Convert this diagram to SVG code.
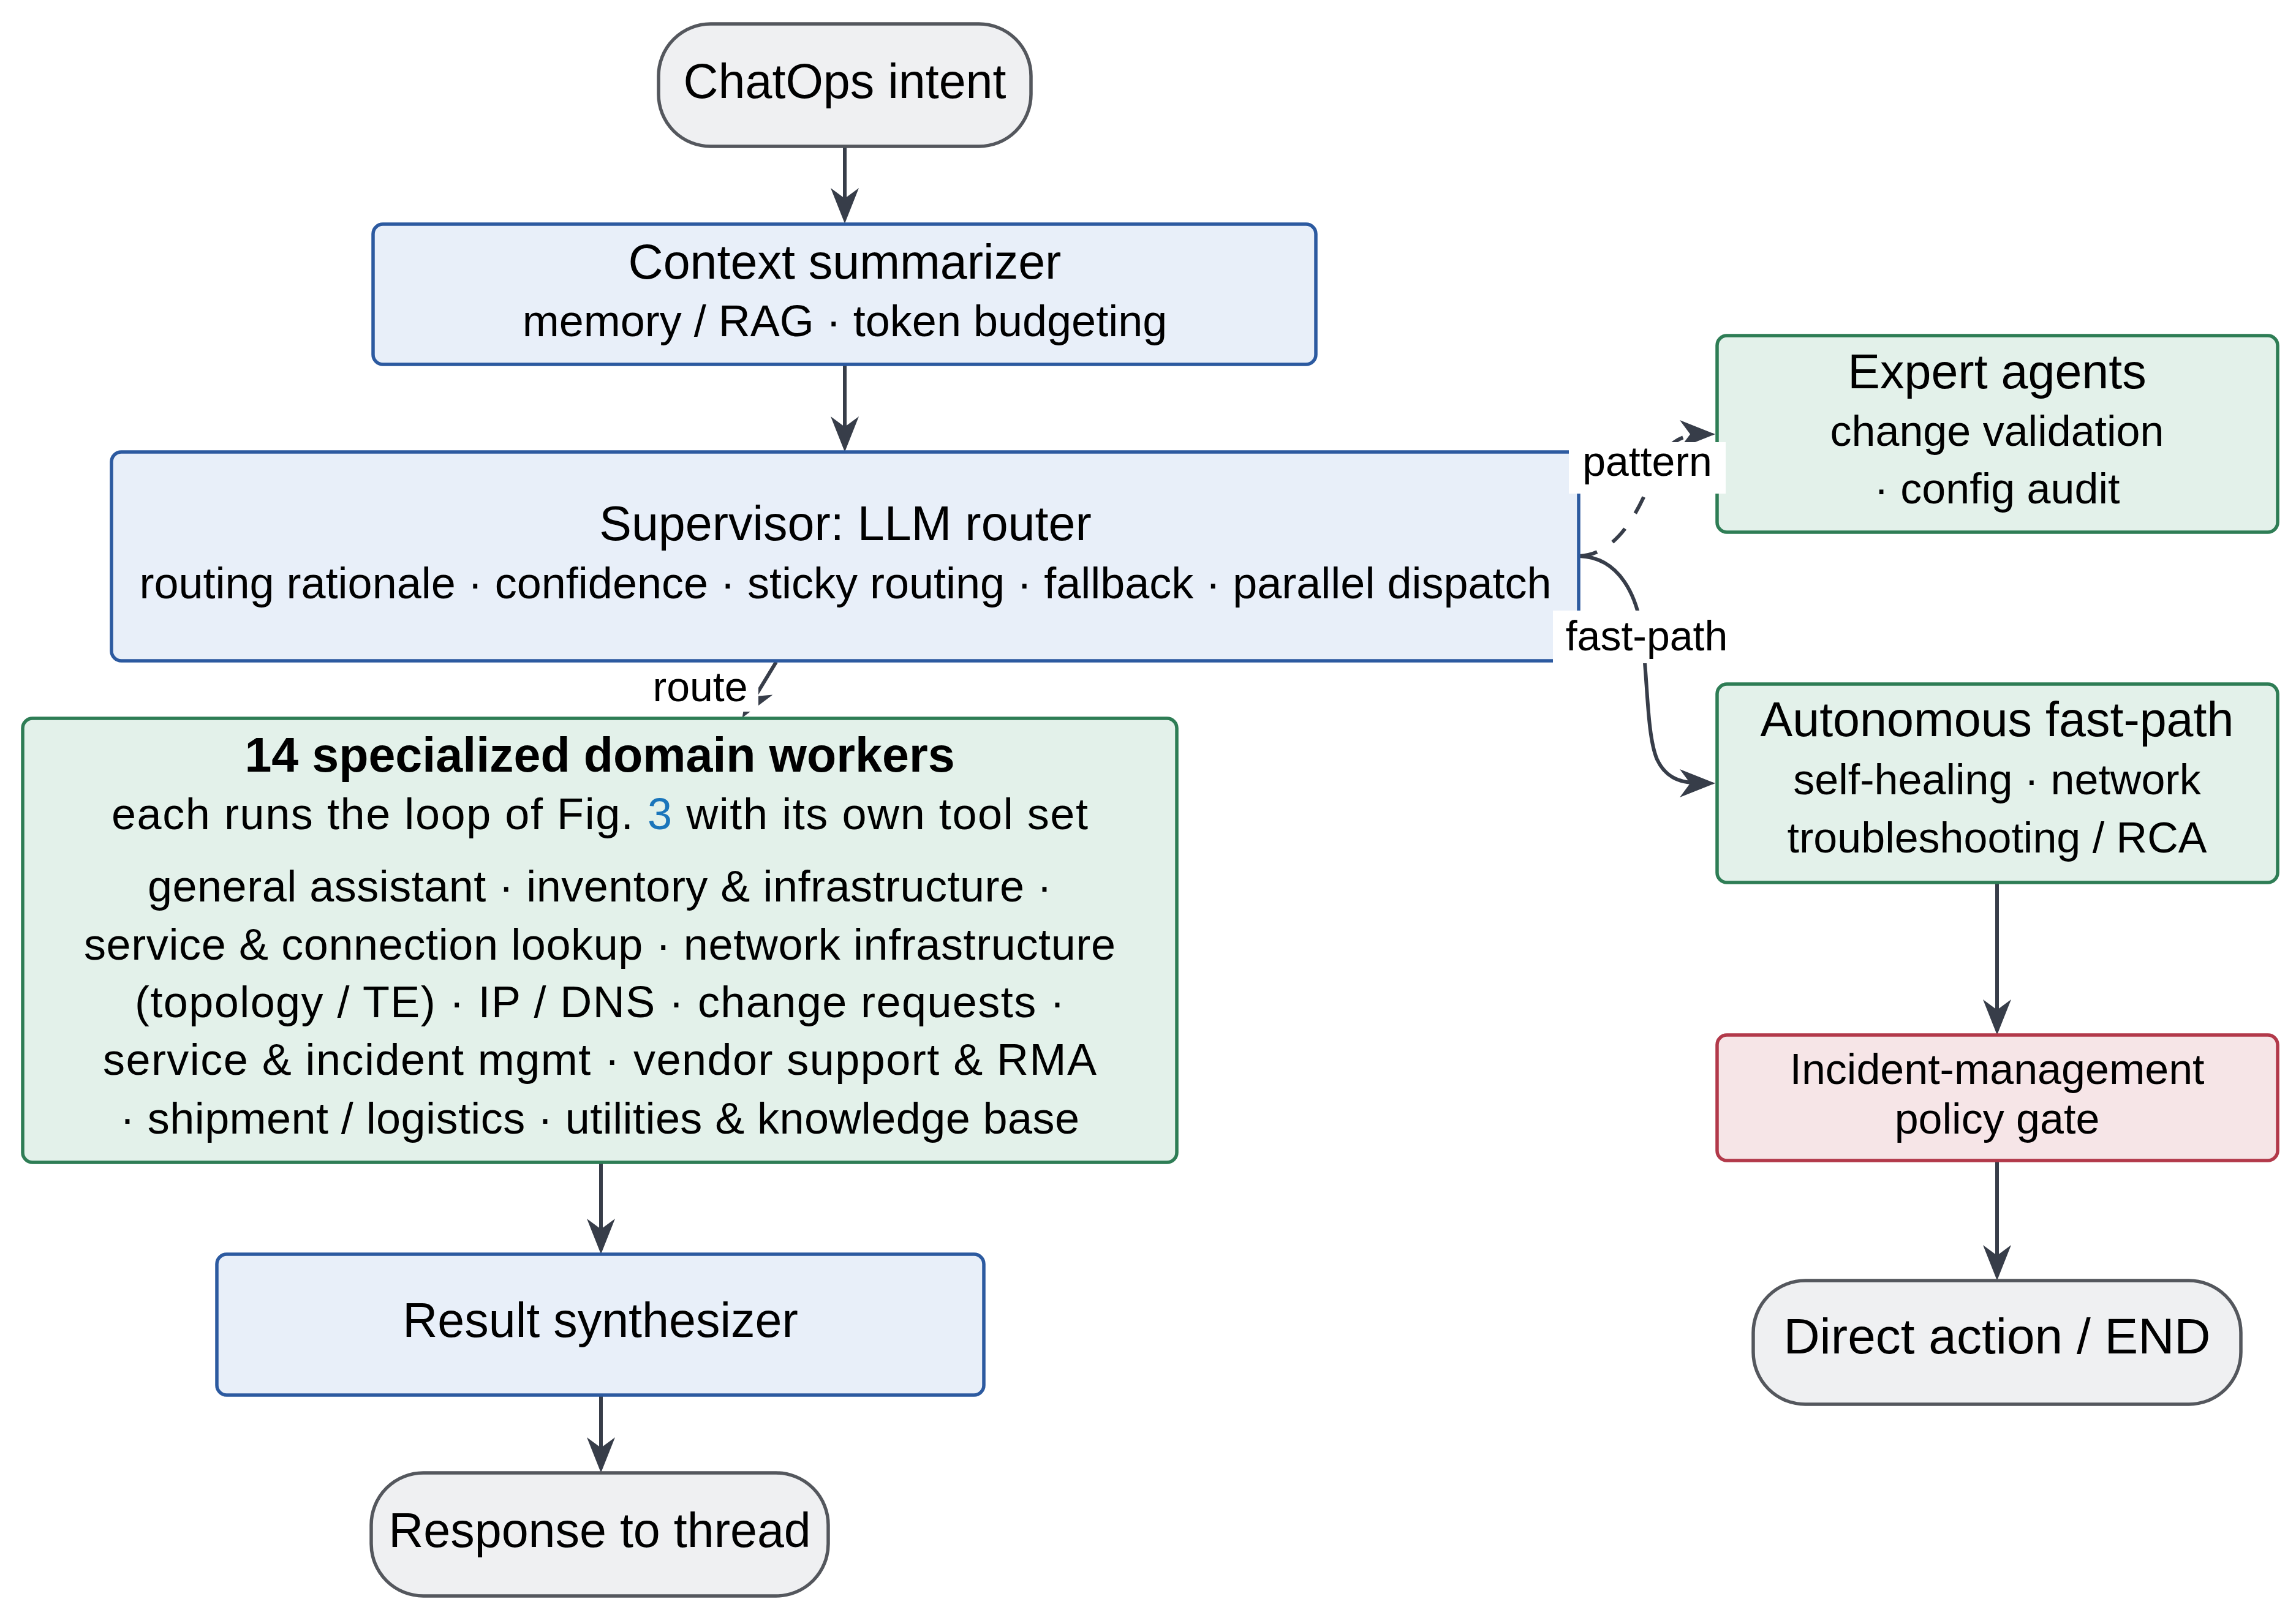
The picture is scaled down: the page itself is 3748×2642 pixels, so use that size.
<svg xmlns="http://www.w3.org/2000/svg" width="3748" height="2642" viewBox="0 0 3748 2642">
<style>
text{font-family:"Liberation Sans",Arial,sans-serif;fill:#000;text-anchor:middle}
.t{font-size:79px}
.s{font-size:72px}
.r{font-size:70px}
.b{font-size:79px;font-weight:bold}
.e{font-size:82px}
.lbl{font-size:68px}
.gray{fill:#eff0f2;stroke:#54575d;stroke-width:5.5}
.blue{fill:#e8eff9;stroke:#2c5aa0;stroke-width:5.5}
.green{fill:#e3f1ea;stroke:#2e7d55;stroke-width:5.5}
.red{fill:#f6e5e7;stroke:#b2394a;stroke-width:5.5}
.c{fill:none;stroke:#373d49;stroke-width:6;marker-end:url(#ah)}
.d{stroke-dasharray:30 30}
.lb{fill:#fff}
.ref{fill:#1a75bb}
</style>
<defs>
<marker id="ah" markerUnits="userSpaceOnUse" markerWidth="60" markerHeight="48" refX="38" refY="24" orient="auto">
<path d="M58,24 L0,1 L17,24 L0,47 Z" fill="#373d49"/>
</marker>
</defs>
<rect width="3748" height="2642" fill="#fff"/>

<g id="connectors">
<path class="c" d="M1379,239 L1379,345"/>
<path class="c" d="M1379,595 L1379,718"/>
<path class="c" d="M1267,1081 L1222,1155"/>
<path class="c d" d="M2578,908 C2650,905 2685,810 2705,760 C2722,722 2745,709 2780,709"/>
<path class="c" d="M2578,908 C2645,910 2672,975 2680,1030 C2690,1110 2688,1200 2705,1240 C2720,1272 2745,1279 2780,1279"/>
<path class="c" d="M981,1898 L981,2028"/>
<path class="c" d="M981,2278 L981,2385"/>
<path class="c" d="M3260,1441 L3260,1670"/>
<path class="c" d="M3260,1895 L3260,2071"/>
</g>

<g id="chatops">
<rect class="gray" x="1075" y="39" width="608" height="200" rx="85" ry="85"/>
<text class="t" x="1379" y="160">ChatOps intent</text>
</g>

<g id="context">
<rect class="blue" x="609" y="366" width="1539" height="229" rx="16"/>
<text class="t" x="1379" y="455">Context summarizer</text>
<text class="s" x="1379" y="549">memory / RAG · token budgeting</text>
</g>

<g id="supervisor">
<rect class="blue" x="182" y="738" width="2395" height="341" rx="16"/>
<text class="t" x="1380" y="882">Supervisor: LLM router</text>
<text class="s" x="1380" y="977">routing rationale · confidence · sticky routing · fallback · parallel dispatch</text>
</g>

<g id="workers">
<rect class="green" x="37" y="1173" width="1884" height="725" rx="16"/>
<text class="b" x="979" y="1260">14 specialized domain workers</text>
<text class="s" x="979" y="1354" textLength="1594" lengthAdjust="spacing">each runs the loop of Fig. <tspan class="ref">3</tspan> with its own tool set</text>
<text class="s" x="979" y="1472" textLength="1476" lengthAdjust="spacing">general assistant · inventory &amp; infrastructure ·</text>
<text class="s" x="979" y="1567" textLength="1684" lengthAdjust="spacing">service &amp; connection lookup · network infrastructure</text>
<text class="s" x="979" y="1661" textLength="1518" lengthAdjust="spacing">(topology / TE) · IP / DNS · change requests ·</text>
<text class="s" x="979" y="1755" textLength="1622" lengthAdjust="spacing">service &amp; incident mgmt · vendor support &amp; RMA</text>
<text class="s" x="979" y="1851" textLength="1566" lengthAdjust="spacing">· shipment / logistics · utilities &amp; knowledge base</text>
</g>

<g id="synthesizer">
<rect class="blue" x="354" y="2048" width="1252" height="230" rx="16"/>
<text class="t" x="980" y="2183">Result synthesizer</text>
</g>

<g id="response">
<rect class="gray" x="606" y="2405" width="746" height="201" rx="85" ry="85"/>
<text class="t" x="979" y="2526">Response to thread</text>
</g>

<g id="expert">
<rect class="green" x="2803" y="548" width="915" height="321" rx="16"/>
<text class="t" x="3260" y="634">Expert agents</text>
<text class="r" x="3260" y="728">change validation</text>
<text class="r" x="3260" y="822">· config audit</text>
</g>

<g id="autonomous">
<rect class="green" x="2803" y="1117" width="915" height="324" rx="16"/>
<text class="t" x="3260" y="1202">Autonomous fast-path</text>
<text class="r" x="3260" y="1297">self-healing · network</text>
<text class="r" x="3260" y="1392">troubleshooting / RCA</text>
</g>

<g id="incident">
<rect class="red" x="2803" y="1690" width="915" height="205" rx="16"/>
<text class="r" x="3260" y="1770">Incident-management</text>
<text class="r" x="3260" y="1851">policy gate</text>
</g>

<g id="direct">
<rect class="gray" x="2862" y="2091" width="796" height="202" rx="85" ry="85"/>
<text class="e" x="3260" y="2210">Direct action / END</text>
</g>

<g id="edge-labels">
<rect class="lb" x="1050" y="1088" width="188" height="74"/>
<text class="lbl" x="1143" y="1145">route</text>
<rect class="lb" x="2561" y="722" width="256" height="84"/>
<text class="lbl" x="2689" y="777">pattern</text>
<rect class="lb" x="2535" y="997" width="298" height="86"/>
<text class="lbl" x="2688" y="1062">fast-path</text>
</g>
</svg>
